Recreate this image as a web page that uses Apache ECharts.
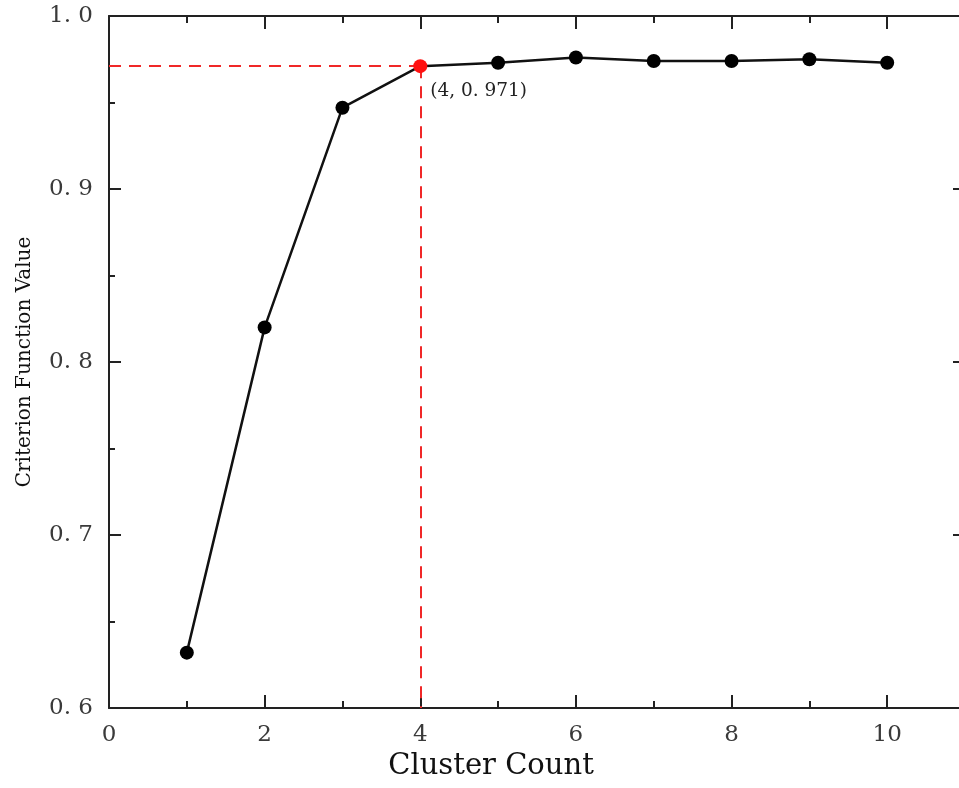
<!DOCTYPE html>
<html>
<head>
<meta charset="utf-8">
<script src="https://cdn.jsdelivr.net/npm/echarts@6/dist/echarts.min.js"></script>
<style>html,body{margin:0;padding:0;background:#fff;}#c{width:959px;height:788px;}</style>
</head>
<body>
<div id="c"></div>
<script>
const clusterCounts = [1, 2, 3, 4, 5, 6, 7, 8, 9, 10];
const criterionValues = [0.632, 0.820, 0.947, 0.971, 0.973, 0.976, 0.974, 0.974, 0.975, 0.973];
const highlightIndex = 3;
const xAxisTitle = 'Cluster Count';
const yAxisTitle = 'Criterion Function Value';

const FONT = '"DejaVu Serif", serif';
const hx = clusterCounts[highlightIndex], hy = criterionValues[highlightIndex];
const fmtNum = v => v.toFixed(1).replace('.', '. ');

const seriesData = clusterCounts.map((c, i) => {
  const d = { value: [c, criterionValues[i]] };
  if (i === highlightIndex) {
    d.itemStyle = { color: '#ff1010' };
    d.label = {
      show: true,
      position: [17, 32],
      align: 'left',
      verticalAlign: 'middle',
      formatter: '(' + hx + ', ' + String(hy).replace('.', '. ') + ')',
      fontFamily: FONT,
      fontSize: 18.5,
      color: '#222'
    };
  }
  return d;
});

const axisLineStyle = { color: '#222', width: 2 };
const chart = echarts.init(document.getElementById('c'));
chart.setOption({
  animation: false,
  backgroundColor: '#fff',
  grid: { left: 109, top: 16, width: 856, height: 692, containLabel: false, outerBoundsMode: 'none' },
  xAxis: [{
    type: 'value', min: 0, max: 11, interval: 2, position: 'bottom',
    axisLine: { show: true, onZero: false, lineStyle: axisLineStyle },
    axisTick: { show: true, inside: true, length: 13, lineStyle: { color: '#222', width: 2 } },
    minorTick: { show: true, splitNumber: 2, length: 7, lineStyle: { color: '#222', width: 2 } },
    splitLine: { show: false },
    axisLabel: { showMaxLabel: false, margin: 16, fontFamily: FONT, fontSize: 23, color: '#3a3a3a',
      formatter: v => (v > 10 ? '' : String(v)) },
    name: xAxisTitle, nameLocation: 'middle', nameGap: 44,
    nameTextStyle: { fontFamily: FONT, fontSize: 29, color: '#111', padding: [0, 92, 0, 0] }
  }, {
    type: 'value', min: 0, max: 11, interval: 2, position: 'top',
    axisLine: { show: true, onZero: false, lineStyle: axisLineStyle },
    axisTick: { show: true, inside: true, length: 13, lineStyle: { color: '#222', width: 2 } },
    minorTick: { show: true, splitNumber: 2, length: 7, lineStyle: { color: '#222', width: 2 } },
    splitLine: { show: false },
    axisLabel: { show: false }
  }],
  yAxis: [{
    type: 'value', min: 0.6, max: 1.0, interval: 0.1, position: 'left',
    axisLine: { show: true, onZero: false, lineStyle: axisLineStyle },
    axisTick: { show: true, inside: true, length: 12, lineStyle: { color: '#222', width: 2 } },
    minorTick: { show: true, splitNumber: 2, length: 6, lineStyle: { color: '#222', width: 2 } },
    splitLine: { show: false },
    axisLabel: { margin: 16, fontFamily: FONT, fontSize: 23, color: '#3a3a3a', formatter: fmtNum },
    name: yAxisTitle, nameLocation: 'middle', nameGap: 74, nameRotate: 90,
    nameTextStyle: { fontFamily: FONT, fontSize: 20, color: '#111' }
  }, {
    type: 'value', min: 0.6, max: 1.0, interval: 0.1, position: 'right',
    axisLine: { show: true, onZero: false, lineStyle: axisLineStyle },
    axisTick: { show: true, inside: true, length: 12, lineStyle: { color: '#222', width: 2 } },
    minorTick: { show: true, splitNumber: 2, length: 6, lineStyle: { color: '#222', width: 2 } },
    splitLine: { show: false },
    axisLabel: { show: false }
  }],
  series: [{
    type: 'line',
    xAxisIndex: 0, yAxisIndex: 0,
    data: seriesData,
    symbol: 'circle', symbolSize: 14,
    lineStyle: { color: '#111', width: 2.5 },
    itemStyle: { color: '#000' },
    z: 3,
    markLine: {
      silent: true, symbol: 'none', z: 2,
      label: { show: false },
      lineStyle: { color: '#f02828', width: 2, type: [12, 8] },
      data: [
        [{ coord: [0, hy] }, { coord: [hx, hy] }],
        [{ coord: [hx, hy] }, { coord: [hx, 0.6] }]
      ]
    }
  }]
});
</script>
</body>
</html>
